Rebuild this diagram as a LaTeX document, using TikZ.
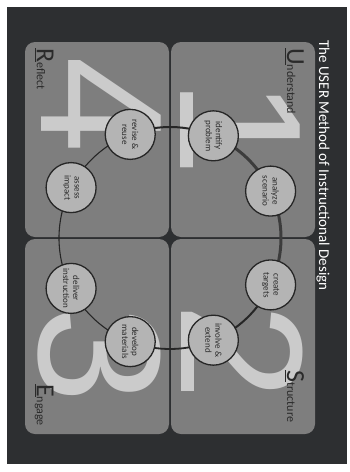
\documentclass[tikz,border=0pt]{standalone}
\usepackage{fontspec}
\setmainfont{Carlito}
\newfontfamily\digitfont{Liberation Sans}
\definecolor{bgdark}{HTML}{2D2F31}
\definecolor{panelgrey}{HTML}{7E7E7E}
\definecolor{digitgrey}{HTML}{CBCBCB}
\definecolor{circlegrey}{HTML}{B4B4B4}
\definecolor{linedark}{HTML}{262626}
\definecolor{labeldark}{HTML}{2A2A2A}
\tikzset{
  bigdigit/.style={inner sep=0pt, text=digitgrey, rotate=-90, font=\digitfont\fontsize{174}{174}\selectfont},
  stepcircle/.style={circle, minimum size=50pt, inner sep=0pt, fill=circlegrey, draw=linedark, line width=1.3pt,
     rotate=-90, align=center, text=labeldark, font=\fontsize{9}{10}\selectfont},
  phaselabel/.style={inner sep=0pt, anchor=base west, rotate=-90, text=labeldark},
  ringline/.style={draw=linedark, line width=1.1pt},
  panelshape/.style={fill=panelgrey, rounded corners=10pt}
}
\newcommand\bigletter[1]{{\fontsize{26}{26}\selectfont\underline{#1}}}
\newcommand\smallrest[1]{{\fontsize{12}{12}\selectfont #1}}
\begin{document}
\begin{tikzpicture}[x=1pt,y=-1pt]
\useasboundingbox (0,0) rectangle (350,472);
\fill[white] (0,0) rectangle (350,472);
\fill[bgdark] (7,7) rectangle (347,464);

% panels
\fill[panelshape] (171,42) rectangle (315,237);
\fill[panelshape] (171,239) rectangle (315,434);
\fill[panelshape] (25,239) rectangle (169,434);
\fill[panelshape] (25,42) rectangle (169,237);

% big digits
\node[bigdigit] (d1) at (240,128) {1};
\node[bigdigit] (d2) at (242,352) {2};
\node[bigdigit] (d3) at (99,355) {3};
\node[bigdigit] (d4) at (101,105) {4};

% phase labels
\node[phaselabel] (lu) at (287,48) {\bigletter{U}\smallrest{nderstand}};
\node[phaselabel] (ls) at (287,370) {\bigletter{S}\smallrest{tructure}};
\node[phaselabel] (le) at (37,384) {\bigletter{E}\smallrest{ngage}};
\node[phaselabel] (lr) at (37,48) {\bigletter{R}\smallrest{eflect}};

% ring
\coordinate (c) at (170,238);
\path (c) ++(-67:111) coordinate (p1);
\path (c) ++(-25:111) coordinate (p2);
\path (c) ++(25:111) coordinate (p3);
\path (c) ++(67:111) coordinate (p4);
\path (c) ++(111:111) coordinate (p5);
\path (c) ++(153:111) coordinate (p6);
\path (c) ++(-153:111) coordinate (p7);
\path (c) ++(-111:111) coordinate (p8);

\draw[ringline, line width=3pt, draw=linedark!90] (p1) arc[start angle=-67, end angle=-25, radius=111];
\draw[ringline, line width=3pt, draw=linedark!90] (p2) arc[start angle=-25, end angle=25, radius=111];
\draw[ringline, line width=2pt] (p3) arc[start angle=25, end angle=67, radius=111];
\draw[ringline, line width=1.8pt] (p4) arc[start angle=67, end angle=111, radius=111];
\draw[ringline] (p5) arc[start angle=111, end angle=153, radius=111];
\draw[ringline] (p6) arc[start angle=153, end angle=207, radius=111];
\draw[ringline] (p7) arc[start angle=-153, end angle=-111, radius=111];
\draw[ringline, line width=2pt] (p8) arc[start angle=-111, end angle=-67, radius=111];

% step circles
\node[stepcircle] (identify) at (p1) {identify\\problem};
\node[stepcircle] (analyze) at (p2) {analyze\\scenario};
\node[stepcircle] (create) at (p3) {create\\targets};
\node[stepcircle] (involve) at (p4) {involve \&\\extend};
\node[stepcircle] (develop) at (p5) {develop\\materials};
\node[stepcircle] (deliver) at (p6) {deliver\\instruction};
\node[stepcircle] (assess) at (p7) {assess\\impact};
\node[stepcircle] (revise) at (p8) {revise \&\\reuse};

% title
\node[inner sep=0pt, anchor=base west, rotate=-90, text=white, font=\fontsize{15}{15}\selectfont] (title) at (319,40) {The USER Method of Instructional Design};
\end{tikzpicture}
\end{document}
